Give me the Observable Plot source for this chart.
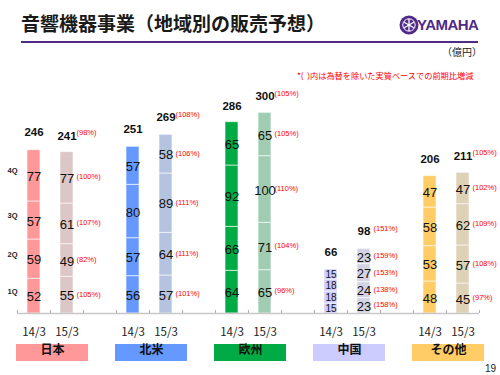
<!DOCTYPE html>
<html><head><meta charset="utf-8">
<script src="https://cdn.jsdelivr.net/npm/d3@7"></script>
<script src="https://cdn.jsdelivr.net/npm/@observablehq/plot@0.6"></script>
<style>
body{margin:0;background:#fff;}
#wrap{position:relative;width:500px;height:375px;overflow:hidden;font-family:"Noto Sans CJK JP",sans-serif;}
#chart{position:absolute;left:0;top:0;}
.abs{position:absolute;white-space:nowrap;line-height:1;}
</style></head><body>
<div id="wrap">
<div id="chart"></div>
<div class="abs" style="left:21px;top:13px;font-size:19px;font-weight:bold;color:#1a1a1a;">音響機器事業（地域別の販売予想）</div>
<div class="abs" style="left:21px;top:41px;width:457px;height:2px;background:#4f2a87;"></div>
<div class="abs" style="left:399px;top:15px;">
<svg width="20" height="20" viewBox="-10 -10 20 20">
<circle r="9.5" fill="#4f2a87"/>
<circle r="6.2" fill="none" stroke="#fff" stroke-width="1"/>
<g stroke="#fff" stroke-width="1.3">
<line x1="0" y1="-6" x2="0" y2="6"/>
<line x1="-5.2" y1="-3" x2="5.2" y2="3"/>
<line x1="-5.2" y1="3" x2="5.2" y2="-3"/>
</g>
</svg></div>
<div class="abs" style="left:417px;top:17px;font-family:'Liberation Sans',Arial,sans-serif;font-size:15px;font-weight:bold;color:#4f2a87;letter-spacing:-0.5px;">YAMAHA</div>
<div class="abs" style="left:442px;top:47px;font-size:10px;color:#222;">（億円）</div>
<div class="abs" style="left:297px;top:71px;font-size:8.2px;color:#ff0000;">*(&nbsp;&nbsp;)内は為替を除いた実質ベースでの前期比増減</div>
<div class="abs" style="left:485px;top:364px;font-family:'Liberation Sans',Arial,sans-serif;font-size:10px;color:#222;">19</div>
</div>
<script>
const regions = ["日本", "北米", "欧州", "中国", "その他"];
const periods = ["14/3", "15/3"];
const quarters = ["1Q", "2Q", "3Q", "4Q"];
const values14 = [[52, 59, 57, 77], [56, 57, 80, 57], [64, 66, 92, 65], [15, 18, 18, 15], [48, 53, 58, 47]];
const values15 = [[55, 49, 61, 77], [57, 64, 89, 58], [65, 71, 100, 65], [23, 24, 27, 23], [45, 57, 62, 47]];
const totals14 = [246, 251, 286, 66, 206];
const totals15 = [241, 269, 300, 98, 211];
const pct15 = [[105, 82, 107, 100], [101, 111, 111, 106], [96, 104, 110, 105], [158, 138, 153, 159], [97, 108, 109, 102]];
const pctTotal15 = [98, 108, 105, 151, 105];
const colors14 = ["#ff9999", "#6699ff", "#00aa44", "#ccccff", "#ffcc66"];
const colors15 = ["#dcc6c6", "#b4c3e0", "#a0ccb2", "#d3d3e3", "#ddd1b6"];

const ML = 16, MR = 20;
const slot = (500 - ML - MR) / 14;
const num = "'Liberation Sans', Arial, sans-serif";
const jp = "'Noto Sans CJK JP', sans-serif";

const rows = [];
regions.forEach((r, i) => periods.forEach((p, j) => {
  const vals = j ? values15[i] : values14[i];
  quarters.forEach((q, k) => rows.push({
    region: r, period: p, quarter: q, value: vals[k],
    fill: (j ? colors15 : colors14)[i], pct: j ? pct15[i][k] : null
  }));
}));
const totals = [];
regions.forEach((r, i) => periods.forEach((p, j) => totals.push({
  region: r, period: p, total: j ? totals15[i] : totals14[i], pct: j ? pctTotal15[i] : null
})));
const regionRows = regions.map((r, i) => ({region: r, fill: colors14[i]}));
const rows15 = rows.filter(d => d.period === "15/3");
const tot15 = totals.filter(d => d.period === "15/3");
const japan14 = rows.filter(d => d.region === "日本" && d.period === "14/3");
const small = d => d.region === "中国" && d.period === "14/3";

const chart = Plot.plot({
  width: 500, height: 375,
  marginTop: 113, marginBottom: 62, marginLeft: ML, marginRight: MR,
  fx: {domain: regions, paddingInner: 1/3, paddingOuter: 0, axis: null, label: null},
  x: {domain: periods, padding: 0, label: null},
  y: {domain: [0, 300], axis: null},
  color: {type: "identity"},
  style: {fontFamily: num, overflow: "visible", background: "transparent"},
  marks: [
    Plot.rect(regionRows, {fx: "region", fill: "fill", insetTop: 231, insetBottom: -48, insetLeft: -1, insetRight: -5}),
    Plot.text(regionRows, {fx: "region", text: "region", frameAnchor: "bottom", dy: 40, dx: 2, fontFamily: jp, fontSize: 12, fontWeight: "bold", fill: "#111"}),
    Plot.barY(rows, Plot.stackY({fx: "region", x: "period", y: "value", fill: "fill", insetLeft: 10, insetRight: 10, stroke: "#fff", strokeOpacity: 0.6, strokeWidth: 1})),
    Plot.ruleY(regionRows.slice(0, 4), {fx: "region", y: () => 0, stroke: "#c8c8c8", strokeWidth: 1.5, insetRight: -slot}),
    Plot.ruleY(regionRows.slice(4), {fx: "region", y: () => 0, stroke: "#c8c8c8", strokeWidth: 1.5}),
    Plot.ruleX(rows.filter(d => d.quarter === "1Q"), {fx: "region", x: "period", y1: () => 0, y2: () => 0, insetTop: -3, dx: -slot / 2, stroke: "#aaa"}),
    Plot.ruleX(rows15.filter(d => d.quarter === "1Q"), {fx: "region", x: "period", y1: () => 0, y2: () => 0, insetTop: -3, dx: slot / 2, stroke: "#aaa"}),
    Plot.text(rows, Plot.stackY({fx: "region", x: "period", y: "value", text: "value", filter: d => !small(d), fontSize: 13, fill: "#111", dy: 1})),
    Plot.text(rows, Plot.stackY({fx: "region", x: "period", y: "value", text: "value", filter: small, fontSize: 10, fill: "#111", dy: 0.5})),
    Plot.text(rows15, Plot.stackY({fx: "region", x: "period", y: "value", text: d => "(" + d.pct + "%)", textAnchor: "start", dx: 9.5, dy: -1, fontSize: 7.5, fill: "#ff0000"})),
    Plot.text(totals, {fx: "region", x: "period", y: "total", text: "total", dy: -17, fontSize: 11.5, fontWeight: "bold", fill: "#111"}),
    Plot.text(tot15, {fx: "region", x: "period", y: "total", text: d => "(" + d.pct + "%)", textAnchor: "start", dx: 9.5, dy: -20, fontSize: 7.5, fill: "#ff0000"}),
    Plot.text(japan14, Plot.stackY({fx: "region", y: "value", text: "quarter", frameAnchor: "left", textAnchor: "middle", dx: -5, dy: -5, fontSize: 7.5, fontWeight: "bold", fill: "#222"})),
    Plot.axisX({tickSize: 0, tickPadding: 14, fontSize: 11.5, fontFamily: jp, fill: "#222", label: null})
  ]
});
document.getElementById("chart").appendChild(chart);
</script>
</body></html>
